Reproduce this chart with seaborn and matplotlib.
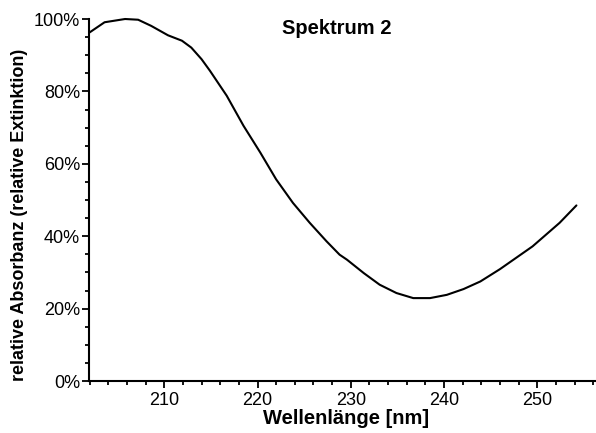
#!/usr/bin/env python
'''
Spektrum 2 - relative Absorbanz ueber Wellenlaenge.
'''

import pandas as pd
import seaborn as sns
from matplotlib import pyplot as plt
from matplotlib.ticker import MultipleLocator, PercentFormatter

# values
wavelength = [202.0, 203.6, 205.8, 207.2, 208.6, 210.4, 211.9, 212.9, 214.0,
              214.9, 216.7, 218.5, 220.3, 222.0, 223.8, 225.6, 227.4, 228.8,
              229.6, 231.4, 233.1, 234.9, 236.7, 238.5, 240.3, 242.1, 243.9,
              246.0, 249.5, 252.4, 254.2]
absorbance = [96.3, 99.1, 100.0, 99.8, 98.1, 95.5, 94.0, 92.1, 88.9,
              85.7, 78.8, 70.5, 63.1, 55.7, 49.2, 43.7, 38.6, 34.9,
              33.5, 29.8, 26.6, 24.3, 22.9, 22.9, 23.8, 25.4, 27.5,
              30.9, 37.2, 43.7, 48.5]

df = pd.DataFrame({'nm': wavelength, 'abs': absorbance})

sns.set_theme(style='ticks')
plt.rcParams['font.family'] = ['Liberation Sans', 'DejaVu Sans']
plt.rcParams['text.color'] = 'black'
plt.rcParams['axes.labelcolor'] = 'black'

fig = plt.figure(figsize=(5.96, 4.33), dpi=100)
ax = fig.add_axes([89 / 596, 52 / 433, 507 / 596, 362 / 433])

sns.lineplot(data=df, x='nm', y='abs', ax=ax, color='black', linewidth=1.5,
             clip_on=False)

ax.set_xlim(201.93, 256.3)
ax.set_ylim(0, 100)
ax.xaxis.set_major_locator(MultipleLocator(10))
ax.xaxis.set_minor_locator(MultipleLocator(2))
ax.yaxis.set_major_locator(MultipleLocator(20))
ax.yaxis.set_minor_locator(MultipleLocator(5))
ax.yaxis.set_major_formatter(PercentFormatter(decimals=0))

for side in ['top', 'right']:
    ax.spines[side].set_visible(False)
for side in ['left', 'bottom']:
    ax.spines[side].set_linewidth(1.5)
    ax.spines[side].set_color('black')

ax.tick_params(which='major', length=5, width=1.3, labelsize=13, colors='black')
ax.tick_params(which='minor', length=3, width=1.3, colors='black')
ax.tick_params(axis='y', which='major', pad=1.5)
ax.tick_params(axis='x', which='major', pad=3)

ax.set_xlabel('Wellenlänge [nm]', fontsize=14.5, fontweight='bold')
ax.set_ylabel('relative Absorbanz (relative Extinktion)', fontsize=13,
              fontweight='bold')
ax.xaxis.set_label_coords(0.507, -0.076)
ax.yaxis.set_label_coords(-0.12, 0.46)

ax.text(0.489, 0.975, 'Spektrum 2', transform=ax.transAxes, ha='center',
        va='center', fontsize=14.5, fontweight='bold')

fig.savefig('out.png', dpi=100)
